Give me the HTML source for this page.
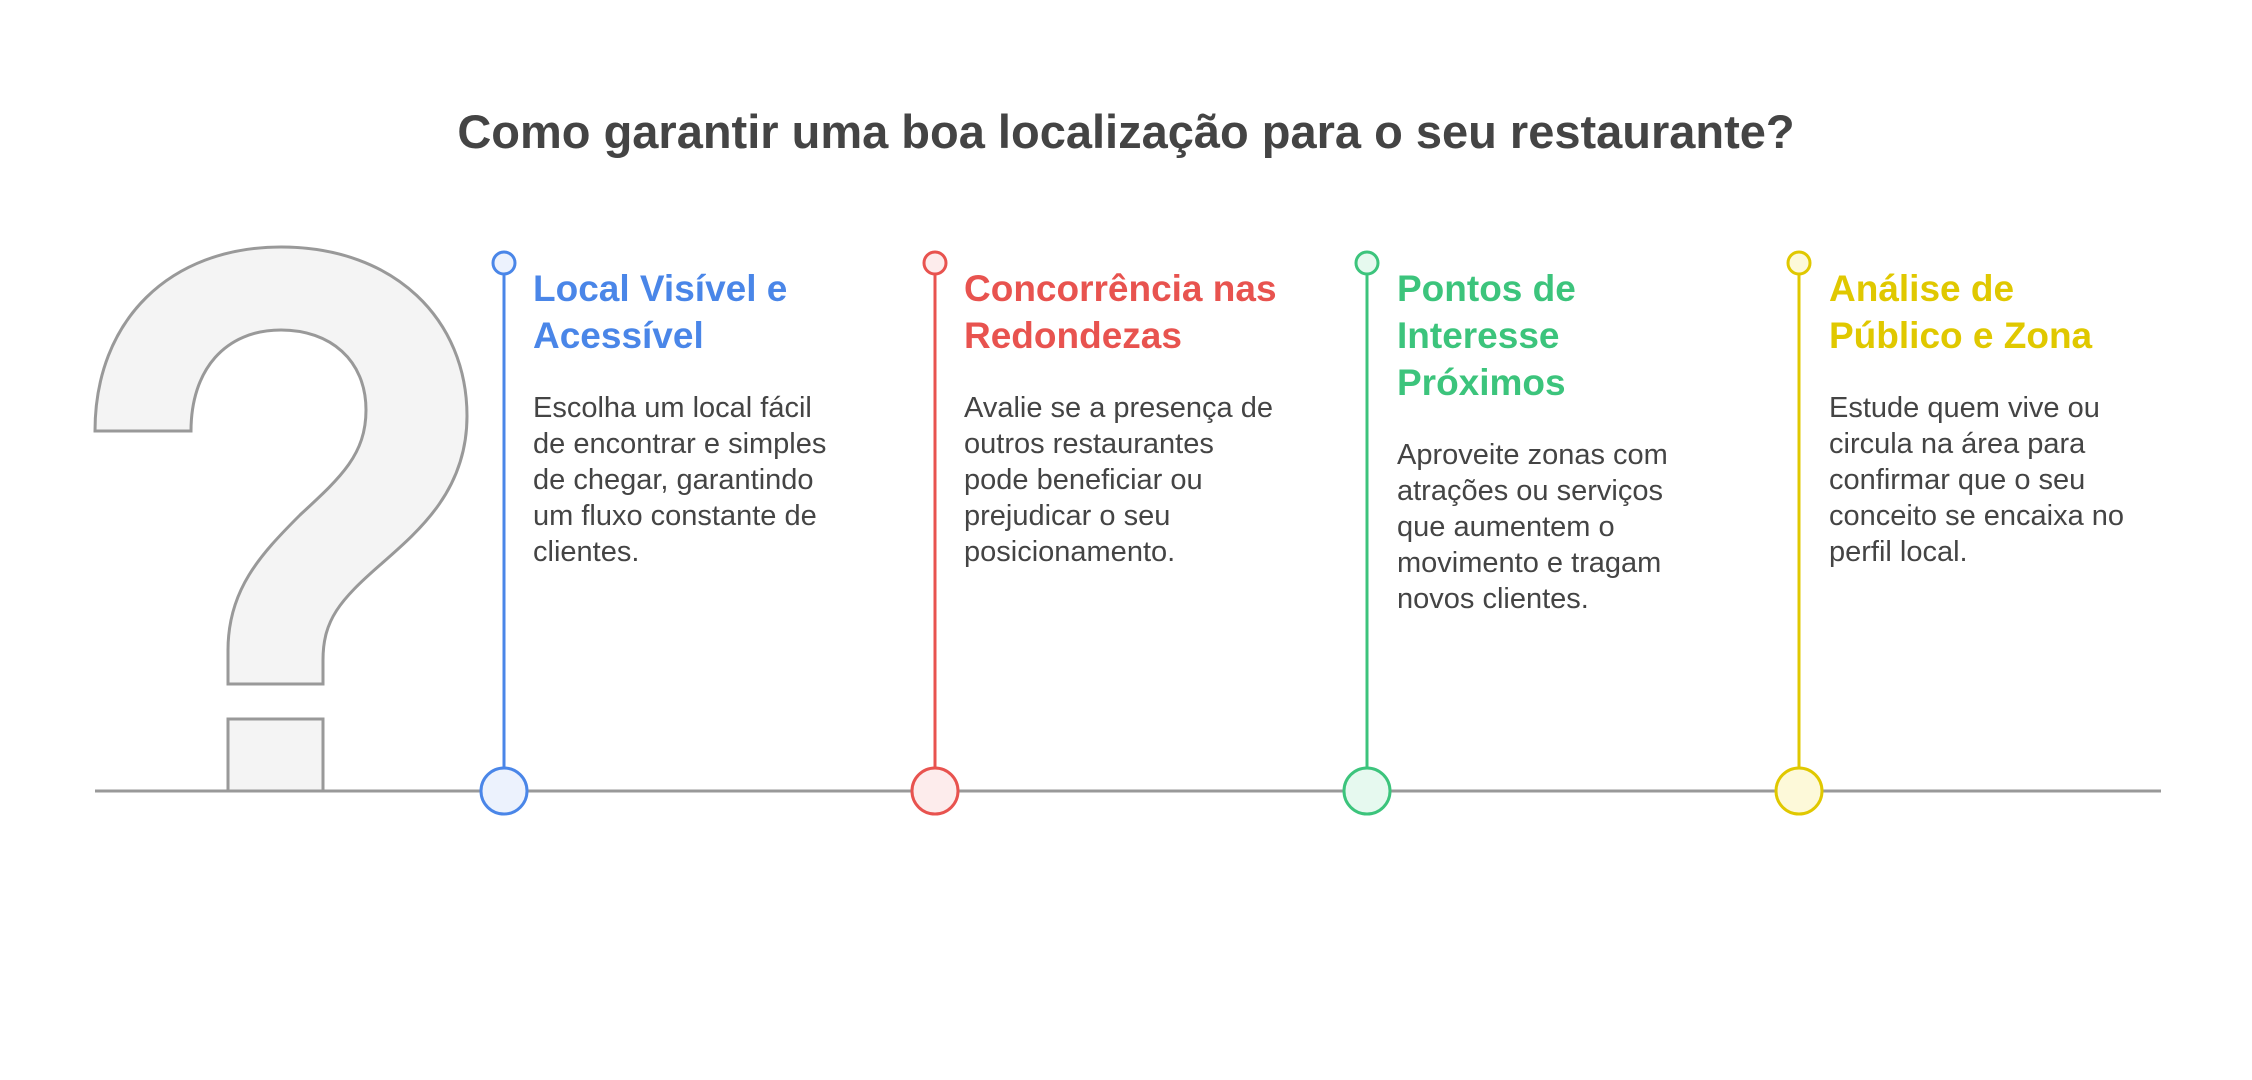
<!DOCTYPE html>
<html><head><meta charset="utf-8"><style>
body{margin:0;width:2252px;height:1080px;background:#fff;position:relative;overflow:hidden;font-family:"Liberation Sans",sans-serif}
.t{position:absolute;font-weight:bold;font-size:37px;line-height:47px;width:380px}
.b{position:absolute;font-size:29px;line-height:36px;color:#444;width:360px}
h1{position:absolute;left:0;width:2252px;top:104px;margin:0;text-align:center;font-size:47px;line-height:56px;color:#444}
</style></head><body>
<h1>Como garantir uma boa localização para o seu restaurante?</h1>
<svg width="2252" height="1080" style="position:absolute;left:0;top:0">
<path d="M95,431 C95,320 170,247 281,247 C395,247 467,320 467,416 C467,490 420,530 380,565 C340,600 323,620 323,660 L323,684 L228,684 L228,650 C228,590 260,555 300,515 C340,478 366,455 366,410 C366,360 330,330 281,330 C225,330 191,370 191,431 Z" fill="#f4f4f4" stroke="#999" stroke-width="3"/>
<path d="M228,791 L228,719 L323,719 L323,791" fill="#f4f4f4" stroke="#999" stroke-width="3"/>
<line x1="95" y1="791" x2="2161" y2="791" stroke="#999" stroke-width="3"/>
<g stroke-width="3">
<line x1="504" y1="274" x2="504" y2="768" stroke="#4a86e8"/>
<circle cx="504" cy="263" r="11" fill="#ecf2fd" stroke="#4a86e8"/>
<circle cx="504" cy="791" r="23" fill="#ecf2fd" stroke="#4a86e8"/>
<line x1="935" y1="274" x2="935" y2="768" stroke="#e8534f"/>
<circle cx="935" cy="263" r="11" fill="#fdecec" stroke="#e8534f"/>
<circle cx="935" cy="791" r="23" fill="#fdecec" stroke="#e8534f"/>
<line x1="1367" y1="274" x2="1367" y2="768" stroke="#3cc47c"/>
<circle cx="1367" cy="263" r="11" fill="#e6f9ef" stroke="#3cc47c"/>
<circle cx="1367" cy="791" r="23" fill="#e6f9ef" stroke="#3cc47c"/>
<line x1="1799" y1="274" x2="1799" y2="768" stroke="#e0c800"/>
<circle cx="1799" cy="263" r="11" fill="#fdf9d9" stroke="#e0c800"/>
<circle cx="1799" cy="791" r="23" fill="#fdf9d9" stroke="#e0c800"/>
</g></svg>
<div class="t" style="left:533px;top:265px;color:#4a86e8">Local Visível e<br>Acessível</div>
<div class="b" style="left:533px;top:390px">Escolha um local fácil<br>de encontrar e simples<br>de chegar, garantindo<br>um fluxo constante de<br>clientes.</div>
<div class="t" style="left:964px;top:265px;color:#e8534f">Concorrência nas<br>Redondezas</div>
<div class="b" style="left:964px;top:390px">Avalie se a presença de<br>outros restaurantes<br>pode beneficiar ou<br>prejudicar o seu<br>posicionamento.</div>
<div class="t" style="left:1397px;top:265px;color:#3cc47c">Pontos de<br>Interesse<br>Próximos</div>
<div class="b" style="left:1397px;top:437px">Aproveite zonas com<br>atrações ou serviços<br>que aumentem o<br>movimento e tragam<br>novos clientes.</div>
<div class="t" style="left:1829px;top:265px;color:#e0c800">Análise de<br>Público e Zona</div>
<div class="b" style="left:1829px;top:390px">Estude quem vive ou<br>circula na área para<br>confirmar que o seu<br>conceito se encaixa no<br>perfil local.</div>
</body></html>
